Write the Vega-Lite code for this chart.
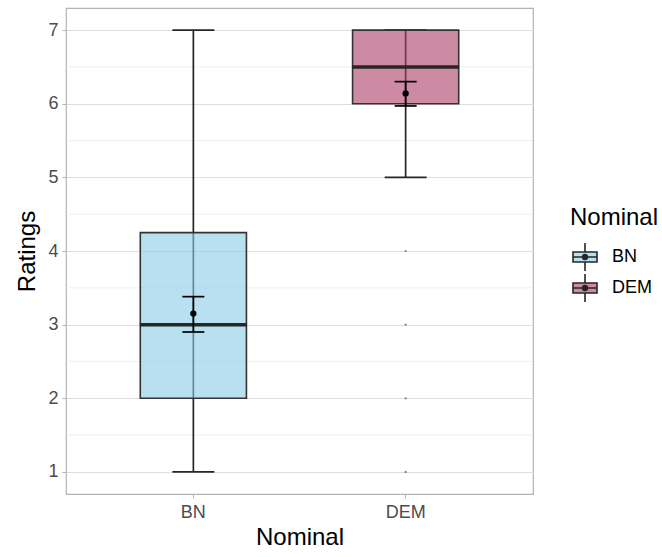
{
  "$schema": "https://vega.github.io/schema/vega-lite/v6.json",
  "width": 467,
  "height": 486,
  "autosize": {"type": "none"},
  "padding": {"left": 66, "top": 8, "right": 129, "bottom": 63},
  "background": "white",
  "config": {
    "font": "Liberation Sans",
    "view": {"stroke": "#b3b3b3", "strokeWidth": 1.2},
    "tick": {"opacity": 1},
    "axis": {
      "domain": false,
      "gridColor": "#dedede",
      "gridWidth": 1,
      "tickColor": "#b3b3b3",
      "tickSize": 4,
      "tickWidth": 1,
      "labelColor": "#4d4d4d",
      "labelFontSize": 18,
      "labelFont": "Liberation Sans",
      "titleFont": "Liberation Sans",
      "titleFontSize": 24,
      "titleFontWeight": "normal",
      "titleColor": "black"
    }
  },
  "datasets": {
    "summary": [
      {"Nominal": "BN", "lower": 1, "q1": 2, "median": 3, "q3": 4.25, "upper": 7, "mean": 3.15, "se_lo": 2.9, "se_hi": 3.38},
      {"Nominal": "DEM", "lower": 5, "q1": 6, "median": 6.5, "q3": 7, "upper": 7, "mean": 6.14, "se_lo": 5.97, "se_hi": 6.3}
    ],
    "outliers": [
      {"Nominal": "DEM", "Ratings": 4},
      {"Nominal": "DEM", "Ratings": 3},
      {"Nominal": "DEM", "Ratings": 2},
      {"Nominal": "DEM", "Ratings": 1}
    ],
    "minor": [
      {"v": 1.5}, {"v": 2.5}, {"v": 3.5}, {"v": 4.5}, {"v": 5.5}, {"v": 6.5}
    ]
  },
  "layer": [
    {
      "data": {"name": "minor"},
      "mark": {"type": "rule", "color": "#e6e6e6", "strokeWidth": 0.6},
      "encoding": {
        "y": {"field": "v", "type": "quantitative", "scale": {"domain": [0.7, 7.3], "nice": false, "zero": false}}
      }
    },
    {
      "data": {"name": "summary"},
      "mark": {"type": "rule", "color": "#262626", "strokeWidth": 1.7, "opacity": 1},
      "encoding": {
        "x": {
          "field": "Nominal", "type": "nominal",
          "scale": {"domain": ["BN", "DEM"], "paddingInner": 0, "paddingOuter": 0.1},
          "axis": {"title": "Nominal", "labelAngle": 0, "bandPosition": 0.5, "labelPadding": 5, "titlePadding": 4}
        },
        "y": {
          "field": "lower", "type": "quantitative",
          "scale": {"domain": [0.7, 7.3], "nice": false, "zero": false},
          "axis": {"title": "Ratings", "values": [1, 2, 3, 4, 5, 6, 7], "format": "d", "labelPadding": 4, "titlePadding": 8}
        },
        "y2": {"field": "upper"}
      }
    },
    {
      "data": {"name": "summary"},
      "mark": {"type": "tick", "color": "#262626", "thickness": 1.7, "size": 42, "opacity": 1},
      "encoding": {
        "x": {"field": "Nominal", "type": "nominal"},
        "y": {"field": "lower", "type": "quantitative"}
      }
    },
    {
      "data": {"name": "summary"},
      "mark": {"type": "tick", "color": "#262626", "thickness": 1.7, "size": 42, "opacity": 1},
      "encoding": {
        "x": {"field": "Nominal", "type": "nominal"},
        "y": {"field": "upper", "type": "quantitative"}
      }
    },
    {
      "data": {"name": "summary"},
      "mark": {"type": "bar", "stroke": "#333333", "strokeWidth": 1.6, "width": {"band": 0.5}},
      "encoding": {
        "x": {"field": "Nominal", "type": "nominal"},
        "y": {"field": "q1", "type": "quantitative"},
        "y2": {"field": "q3"},
        "fill": {
          "field": "Nominal", "type": "nominal",
          "scale": {"domain": ["BN", "DEM"], "range": ["rgba(138,203,232,0.6)", "rgba(170,60,102,0.6)"]},
          "legend": {
            "title": "Nominal",
            "orient": "none",
            "legendX": 504,
            "legendY": 198,
            "titleFontSize": 24,
            "titleFontWeight": "normal",
            "titleColor": "black",
            "titlePadding": 14,
            "labelFontSize": 18,
            "labelColor": "black",
            "labelOffset": 14,
            "rowPadding": -8,
            "symbolSize": 576,
            "symbolType": "M-1,-0.42H1V0.42H-1Z M0,-0.42V-1.17 M0,0.42V1.17 M-1,0H1 M-0.2,0A0.2,0.2 0 1,1 0.2,0A0.2,0.2 0 1,1 -0.2,0 M-0.12,0A0.12,0.12 0 1,1 0.12,0A0.12,0.12 0 1,1 -0.12,0 M-0.05,0A0.05,0.05 0 1,1 0.05,0A0.05,0.05 0 1,1 -0.05,0",
            "symbolStrokeColor": "#262626",
            "symbolStrokeWidth": 1.6,
            "symbolOffset": 2,
            "padding": 0
          }
        }
      }
    },
    {
      "data": {"name": "summary"},
      "mark": {"type": "tick", "color": "#262626", "thickness": 3.5, "size": 107, "opacity": 1},
      "encoding": {
        "x": {"field": "Nominal", "type": "nominal"},
        "y": {"field": "median", "type": "quantitative"}
      }
    },
    {
      "data": {"name": "outliers"},
      "mark": {"type": "circle", "color": "#333333", "size": 5, "opacity": 0.6},
      "encoding": {
        "x": {"field": "Nominal", "type": "nominal"},
        "y": {"field": "Ratings", "type": "quantitative"}
      }
    },
    {
      "data": {"name": "summary"},
      "mark": {"type": "rule", "color": "black", "strokeWidth": 1.7, "opacity": 1},
      "encoding": {
        "x": {"field": "Nominal", "type": "nominal"},
        "y": {"field": "se_lo", "type": "quantitative"},
        "y2": {"field": "se_hi"}
      }
    },
    {
      "data": {"name": "summary"},
      "mark": {"type": "tick", "color": "black", "thickness": 1.7, "size": 22, "opacity": 1},
      "encoding": {
        "x": {"field": "Nominal", "type": "nominal"},
        "y": {"field": "se_lo", "type": "quantitative"}
      }
    },
    {
      "data": {"name": "summary"},
      "mark": {"type": "tick", "color": "black", "thickness": 1.7, "size": 22, "opacity": 1},
      "encoding": {
        "x": {"field": "Nominal", "type": "nominal"},
        "y": {"field": "se_hi", "type": "quantitative"}
      }
    },
    {
      "data": {"name": "summary"},
      "mark": {"type": "circle", "color": "black", "size": 40, "opacity": 1},
      "encoding": {
        "x": {"field": "Nominal", "type": "nominal"},
        "y": {"field": "mean", "type": "quantitative"}
      }
    }
  ]
}
